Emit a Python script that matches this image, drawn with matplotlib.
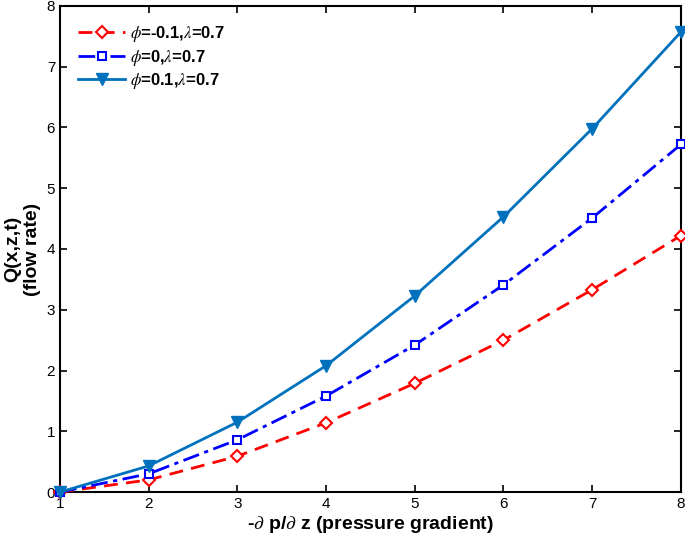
import matplotlib
matplotlib.use("Agg")
import matplotlib.pyplot as plt

plt.rcParams['font.family'] = ['Liberation Sans', 'DejaVu Sans']
plt.rcParams['mathtext.fontset'] = 'stix'

x = [1, 2, 3, 4, 5, 6, 7, 8]
q_neg = [0, 0.20, 0.59, 1.14, 1.79, 2.50, 3.33, 4.22]
q_zero = [0, 0.30, 0.86, 1.58, 2.42, 3.41, 4.51, 5.72]
q_pos = [0, 0.43, 1.15, 2.08, 3.23, 4.53, 5.98, 7.57]
labels = [r'$\phi$=-0.1,$\lambda$=0.7', r'$\phi$=0,$\lambda$=0.7', r'$\phi$=0.1,$\lambda$=0.7']

fig = plt.figure(figsize=(6.85, 5.36), dpi=100)
ax = fig.add_axes([0.0876, 0.082, 0.9064, 0.907])

ax.plot(x, q_neg, color='#ff0000', linestyle=(0, (5, 3)), linewidth=2,
        marker='D', markersize=6, markerfacecolor='white', markeredgewidth=1.5,
        markeredgecolor='#ff0000', label=labels[0], clip_on=False, zorder=3)
ax.plot(x, q_zero, color='#0000ff', linestyle=(0, (6, 2, 1.5, 2)), linewidth=2,
        marker='s', markersize=6, markerfacecolor='white', markeredgewidth=1.5,
        markeredgecolor='#0000ff', label=labels[1], clip_on=False, zorder=3)
ax.plot(x, q_pos, color='#0072bd', linestyle='-', linewidth=2,
        marker='v', markersize=8, markerfacecolor='#0072bd',
        markeredgecolor='#0072bd', label=labels[2], clip_on=False, zorder=3)

ax.set_xlim(1, 8)
ax.set_ylim(0, 8)
ax.set_xticks(range(1, 9))
ax.set_yticks(range(0, 9))
ax.tick_params(direction='in', top=True, right=True, length=5, width=1.2, labelsize=11)
for s in ax.spines.values():
    s.set_linewidth(1.5)

ax.set_xlabel(r'-$\partial$ p/$\partial$ z (pressure gradient)', fontsize=14, fontweight='bold', labelpad=2)
ax.set_ylabel('Q(x,z,t)\n(flow rate)', fontsize=14, fontweight='bold', labelpad=4)

leg = ax.legend(loc='upper left', frameon=False, prop={'weight': 'bold', 'size': 12},
                handlelength=2.8, handletextpad=0.3, labelspacing=0.2,
                borderaxespad=0.7)

fig.savefig('out.png', dpi=100)
